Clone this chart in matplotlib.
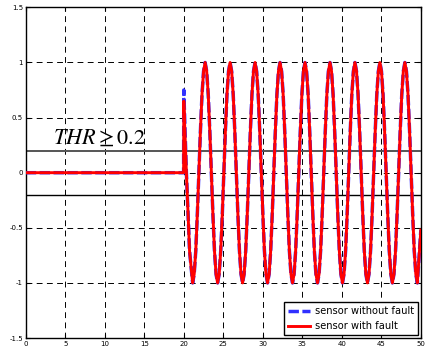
import numpy as np
import matplotlib
matplotlib.use("Agg")
import matplotlib.pyplot as plt

# ---- data ----
# flat part (before the step at t = 20)
t_flat = [0, 19.98]
v_flat = [0.0, 0.0]
# start of oscillation (spike at t = 20)
t_start = [20.0, 20.33, 20.73]
v_start_nofault = [0.75, 0.0, -0.71]
v_start_fault = [0.65, 0.0, -0.71]
# oscillation from first trough (t = 21.12) to last trough (t = 49.56), 16 samples per period
t_osc_first, t_osc_last = 21.12, 49.56
v_osc = [
    -1.0, -0.92, -0.71, -0.38, 0.0, 0.38, 0.71, 0.92, 1.0, 0.92, 0.71, 0.38, 0.0, -0.38, -0.71, -0.92,
    -1.0, -0.92, -0.71, -0.38, 0.0, 0.38, 0.71, 0.92, 1.0, 0.92, 0.71, 0.38, 0.0, -0.38, -0.71, -0.92,
    -1.0, -0.92, -0.71, -0.38, 0.0, 0.38, 0.71, 0.92, 1.0, 0.92, 0.71, 0.38, 0.0, -0.38, -0.71, -0.92,
    -1.0, -0.92, -0.71, -0.38, 0.0, 0.38, 0.71, 0.92, 1.0, 0.92, 0.71, 0.38, 0.0, -0.38, -0.71, -0.92,
    -1.0, -0.92, -0.71, -0.38, 0.0, 0.38, 0.71, 0.92, 1.0, 0.92, 0.71, 0.38, 0.0, -0.38, -0.71, -0.92,
    -1.0, -0.92, -0.71, -0.38, 0.0, 0.38, 0.71, 0.92, 1.0, 0.92, 0.71, 0.38, 0.0, -0.38, -0.71, -0.92,
    -1.0, -0.92, -0.71, -0.38, 0.0, 0.38, 0.71, 0.92, 1.0, 0.92, 0.71, 0.38, 0.0, -0.38, -0.71, -0.92,
    -1.0, -0.92, -0.71, -0.38, 0.0, 0.38, 0.71, 0.92, 1.0, 0.92, 0.71, 0.38, 0.0, -0.38, -0.71, -0.92,
    -1.0, -0.92, -0.71, -0.38, 0.0, 0.38, 0.71, 0.92, 1.0, 0.92, 0.71, 0.38, 0.0, -0.38, -0.71, -0.92,
    -1.0,
]
t_end = [50.0]
v_end = [-0.52]

thr_upper = 0.2
thr_lower = -0.2
x_ticks = [0, 5, 10, 15, 20, 25, 30, 35, 40, 45, 50]
y_ticks = [-1.5, -1, -0.5, 0, 0.5, 1, 1.5]
y_ticklabels = ["-1.5", "-1", "-0.5", "0", "0.5", "1", "1.5"]
labels = ["sensor without fault", "sensor with fault"]

t_osc = list(np.linspace(t_osc_first, t_osc_last, len(v_osc)))
t_all = t_flat + t_start + t_osc + t_end
v_nofault = v_flat + v_start_nofault + v_osc + v_end
v_fault = v_flat + v_start_fault + v_osc + v_end

fig = plt.figure(figsize=(4.29, 3.51), dpi=100)
ax = fig.add_axes([0.06, 0.037, 0.921, 0.942])

ax.grid(True, color="black", linestyle=(0, (6, 4.5)), linewidth=0.7)
ax.set_axisbelow(True)

ax.plot(t_all, v_nofault, color="#3030ff", linestyle=(0, (3, 1.0)), linewidth=2.5,
        label=labels[0], zorder=3)
ax.plot(t_all, v_fault, color="red", linestyle="-", linewidth=2.1,
        label=labels[1], zorder=4)

ax.axhline(thr_upper, color="#555555", linewidth=1.4, zorder=2)
ax.axhline(thr_lower, color="black", linewidth=1.0, zorder=2)

plt.rcParams["mathtext.fontset"] = "stix"
ax.text(3.5, 0.32, r"$THR \geq 0.2$", fontsize=16, color="black",
        va="center", ha="left", zorder=5)

ax.set_xlim(0, 50)
ax.set_ylim(-1.5, 1.5)
ax.set_xticks(x_ticks)
ax.set_yticks(y_ticks)
ax.set_yticklabels(y_ticklabels)
ax.tick_params(direction="in", length=3, labelsize=5, pad=2, top=True, right=True)
for s in ax.spines.values():
    s.set_linewidth(1.0)

leg = ax.legend(loc="lower right", fontsize=7.1, frameon=True, fancybox=False,
                framealpha=1, edgecolor="black", borderpad=0.4, labelspacing=0.5,
                handlelength=2.2, handletextpad=0.5, borderaxespad=0.3)
leg.get_frame().set_linewidth(1.0)

fig.savefig("out.png", dpi=100)
